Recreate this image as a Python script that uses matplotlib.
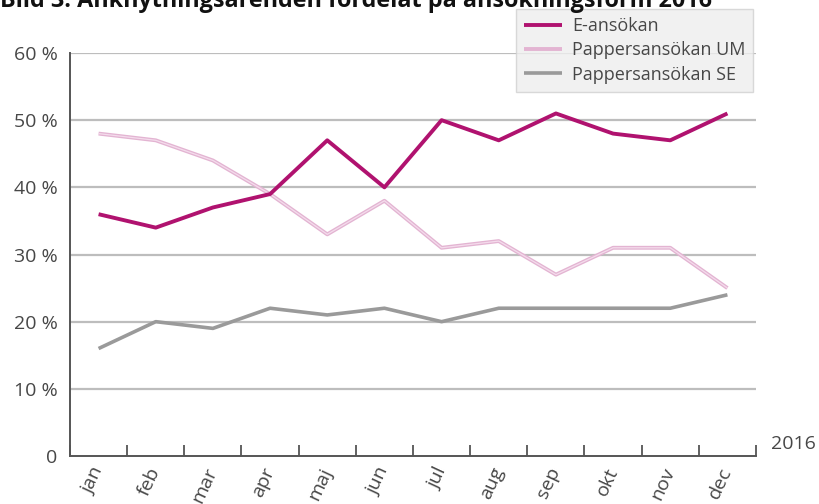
import matplotlib
matplotlib.use("Agg")
import matplotlib.pyplot as plt
import numpy as np

plt.rcParams['font.family'] = ['Open Sans', 'DejaVu Sans']

months = ["jan", "feb", "mar", "apr", "maj", "jun", "jul", "aug", "sep", "okt", "nov", "dec"]
e_ansokan = [36, 34, 37, 39, 47, 40, 50, 47, 51, 48, 47, 51]
pappers_um = [48, 47, 44, 39, 33, 38, 31, 32, 27, 31, 31, 25]
pappers_se = [16, 20, 19, 22, 21, 22, 20, 22, 22, 22, 22, 24]
y_ticks = [0, 10, 20, 30, 40, 50, 60]
y_labels = ["0", "10 %", "20 %", "30 %", "40 %", "50 %", "60 %"]
title = "Bild 3. Anknytningsärenden fördelat på ansökningsform 2016"
year_label = "2016"

fig = plt.figure(figsize=(8.2, 5.04), dpi=100)
ax = fig.add_axes([70 / 820, 1 - 456 / 504, (756 - 70) / 820, (456 - 53) / 504])

text_col = "#474747"
grid_col = "#bdbdbd"

ax.set_ylim(0, 60)
for v in y_ticks[1:]:
    ax.axhline(v, color=grid_col, lw=1.6, zorder=1)

l_se, = ax.plot(months, pappers_se, color="#9a9a9a", lw=2.6, zorder=3,
                solid_capstyle="butt", label="Pappersansökan SE")
l_um, = ax.plot(months, pappers_um, color="#e3b4d2", lw=2.8, zorder=3,
                solid_capstyle="butt", label="Pappersansökan UM")
ax.plot(months, pappers_um, color="#f4dcec", lw=0.9, zorder=3.1,
        solid_capstyle="butt")
l_e, = ax.plot(months, e_ansokan, color="#b0126f", lw=2.8, zorder=4,
               solid_capstyle="butt", label="E-ansökan")

ax.set_xlim(-0.5, len(months) - 0.5)
ax.set_yticks(y_ticks)
ax.set_yticklabels(y_labels)
ax.tick_params(axis="y", length=0, pad=9, labelsize=14, labelcolor=text_col)
ax.tick_params(axis="x", which="major", length=0, pad=9, labelsize=14,
               labelcolor=text_col)
ax.set_xticks(np.arange(-0.5, len(months), 1.0), minor=True)
ax.tick_params(axis="x", which="minor", direction="in", length=8, width=1.3,
               color="#555555")
for lbl in ax.get_xticklabels():
    lbl.set_rotation(65)
    lbl.set_ha("right")
    lbl.set_va("center")
    lbl.set_rotation_mode("anchor")

for s in ["top", "right"]:
    ax.spines[s].set_visible(False)
for s in ["left", "bottom"]:
    ax.spines[s].set_color("#555555")
    ax.spines[s].set_linewidth(1.4)

fig.text(771 / 820, 1 - 444 / 504, year_label, fontsize=14, color=text_col,
         ha="left", va="center")

fig.text(0 / 820, 1 - 7 / 504, title, fontsize=16.8, fontweight="bold",
         color="#111111", ha="left", va="baseline")

leg = ax.legend(handles=[l_e, l_um, l_se], loc="upper left",
                bbox_to_anchor=(516 / 820, 1 - 9 / 504), bbox_transform=fig.transFigure,
                fontsize=13, frameon=True, fancybox=False, handlelength=2.1,
                handletextpad=0.55, borderpad=0.45, labelspacing=0.35,
                borderaxespad=0)
leg.get_frame().set_facecolor("#eeeeee")
leg.get_frame().set_edgecolor("#d0d0d0")
leg.get_frame().set_linewidth(1.0)
for t in leg.get_texts():
    t.set_color(text_col)

fig.savefig("out.png", dpi=100)
